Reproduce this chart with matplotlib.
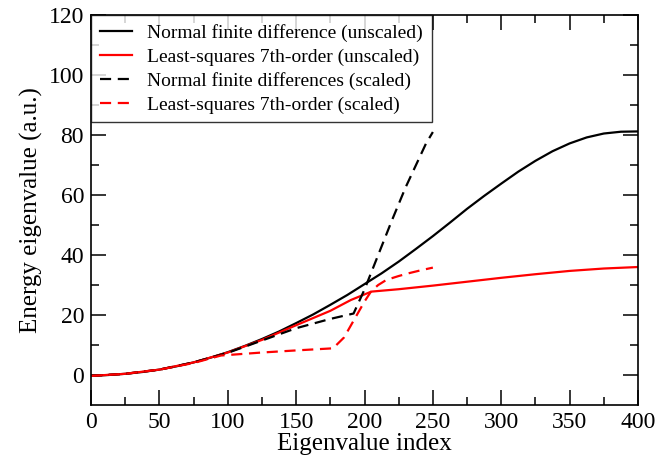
import numpy as np
import matplotlib.pyplot as plt

plt.rcParams['font.family'] = ['Liberation Serif', 'DejaVu Serif']

# Normal finite difference (unscaled)
fd_x = [0, 12.5, 25, 37.5, 50, 62.5, 75, 87.5, 100, 112.5, 125, 137.5, 150, 162.5, 175, 187.5,
        200, 212.5, 225, 237.5, 250, 262.5, 275, 287.5, 300, 312.5, 325, 337.5, 350, 362.5,
        375, 387.5, 400]
fd_y = [-0.3, 0.0, 0.4, 1.0, 1.8, 2.9, 4.2, 5.8, 7.6, 9.7, 12.0, 14.5, 17.3, 20.2, 23.4, 26.7,
        30.3, 33.9, 37.8, 42.0, 46.3, 50.8, 55.4, 59.7, 63.8, 67.8, 71.4, 74.6, 77.2, 79.2,
        80.5, 81.1, 81.2]

# Least-squares 7th-order (unscaled)
ls_x = [0, 25, 50, 75, 100, 125, 150, 175, 190, 205, 225, 250, 275, 300, 325, 350, 375, 400]
ls_y = [-0.3, 0.4, 1.8, 4.2, 7.5, 11.7, 16.6, 21.4, 25.0, 27.8, 28.6, 29.8, 31.1, 32.4, 33.6, 34.7, 35.5, 36.0]

# Normal finite differences (scaled)
fds_x = [0, 25, 50, 75, 100, 125, 150, 175, 192, 200, 210, 220, 230, 240, 245, 250]
fds_y = [-0.3, 0.4, 1.8, 4.2, 7.4, 11.5, 15.6, 18.7, 20.5, 28.5, 40.0, 51.5, 62.5, 72.3, 77.2, 81.0]

# Least-squares 7th-order (scaled)
lss_x = [0, 25, 50, 75, 95, 125, 150, 177, 185, 190, 195, 200, 205, 210, 216, 225, 233, 242, 250]
lss_y = [-0.3, 0.4, 1.8, 4.0, 6.5, 7.5, 8.2, 8.9, 12.5, 16.5, 20.5, 24.5, 28.0, 30.0, 31.7, 33.0, 34.0, 35.0, 35.8]

fig = plt.figure(figsize=(6.61, 4.65), dpi=100)
ax = fig.add_axes([0.1377, 0.129, 0.8275, 0.8387])

ax.plot(fd_x, fd_y, color='black', lw=1.6, label='Normal finite difference (unscaled)')
ax.plot(ls_x, ls_y, color='red', lw=1.6, label='Least-squares 7th-order (unscaled)')
ax.plot(fds_x, fds_y, color='black', lw=1.6, ls=(0, (5, 3)), label='Normal finite differences (scaled)')
ax.plot(lss_x, lss_y, color='red', lw=1.6, ls=(0, (5, 3)), label='Least-squares 7th-order (scaled)')

ax.set_xlim(0, 400)
ax.set_ylim(-10, 120)
ax.set_xticks(np.arange(0, 401, 50))
ax.set_xticks(np.arange(0, 401, 25), minor=True)
ax.set_yticks(np.arange(0, 121, 20))
ax.set_yticks(np.arange(0, 121, 10), minor=True)

ax.tick_params(which='both', direction='in', top=True, right=True, labelsize=17, width=1.1)
ax.tick_params(which='major', length=10.5, pad=5)
ax.tick_params(which='minor', length=5.5)
for s in ax.spines.values():
    s.set_linewidth(1.2)

ax.set_xlabel('Eigenvalue index', fontsize=18, labelpad=0)
ax.set_ylabel('Energy eigenvalue (a.u.)', fontsize=18, labelpad=4)

leg = ax.legend(loc='upper left', fontsize=14, frameon=True, fancybox=False,
                borderaxespad=0.0, handlelength=1.65, handletextpad=0.8,
                labelspacing=0.32, borderpad=0.45)
leg.get_frame().set_edgecolor('black')
leg.get_frame().set_linewidth(1.0)

plt.savefig('out.png', dpi=100)
